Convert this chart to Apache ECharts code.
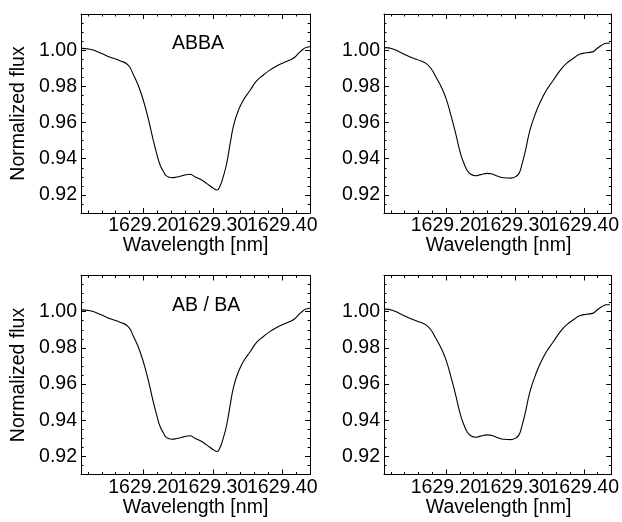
<!DOCTYPE html>
<html>
<head>
<meta charset="utf-8">
<script src="https://cdn.jsdelivr.net/npm/echarts@6.0.0/dist/echarts.min.js"></script>
<style>
  html, body { margin: 0; padding: 0; background: #fff; }
  #chart { width: 622px; height: 522px; }
</style>
</head>
<body>
<div id="chart"></div>
<script>
// Line profiles around 1629.3 nm (left column: ABBA / AB-BA, right column: second set)
const wavelengthLeft = [
  1629.110, 1629.123, 1629.137, 1629.152, 1629.166, 1629.178, 1629.185, 1629.195,
  1629.205, 1629.214, 1629.219, 1629.224, 1629.229, 1629.233, 1629.241, 1629.248,
  1629.258, 1629.267, 1629.274, 1629.282, 1629.291, 1629.301, 1629.306, 1629.310,
  1629.315, 1629.320, 1629.325, 1629.330, 1629.337, 1629.344, 1629.354, 1629.363,
  1629.373, 1629.382, 1629.392, 1629.402, 1629.411, 1629.418, 1629.426, 1629.435,
  1629.440
];
const fluxABBA = [
  1.0010, 1.0005, 0.9986, 0.9961, 0.9942, 0.9918, 0.9868, 0.9780,
  0.9651, 0.9504, 0.9430, 0.9365, 0.9328, 0.9305, 0.9295, 0.9299,
  0.9308, 0.9314, 0.9301, 0.9286, 0.9264, 0.9236, 0.9227, 0.9246,
  0.9301, 0.9375, 0.9485, 0.9586, 0.9669, 0.9725, 0.9780, 0.9830,
  0.9863, 0.9890, 0.9913, 0.9931, 0.9946, 0.9961, 0.9992, 1.0016,
  1.0019
];
const fluxABoverBA = [
  1.0010, 1.0005, 0.9986, 0.9961, 0.9942, 0.9918, 0.9868, 0.9780,
  0.9651, 0.9504, 0.9430, 0.9365, 0.9328, 0.9305, 0.9295, 0.9299,
  0.9308, 0.9314, 0.9301, 0.9286, 0.9264, 0.9236, 0.9227, 0.9246,
  0.9301, 0.9375, 0.9485, 0.9586, 0.9669, 0.9725, 0.9780, 0.9830,
  0.9863, 0.9890, 0.9913, 0.9931, 0.9946, 0.9961, 0.9992, 1.0016,
  1.0019
];
const wavelengthRight = [
  1629.111, 1629.123, 1629.135, 1629.149, 1629.164, 1629.171, 1629.178, 1629.185,
  1629.193, 1629.200, 1629.207, 1629.214, 1629.221, 1629.226, 1629.231, 1629.236,
  1629.243, 1629.250, 1629.260, 1629.267, 1629.274, 1629.284, 1629.294, 1629.301,
  1629.306, 1629.310, 1629.315, 1629.322, 1629.330, 1629.337, 1629.346, 1629.356,
  1629.366, 1629.375, 1629.385, 1629.394, 1629.404, 1629.414, 1629.418, 1629.426,
  1629.433, 1629.438
];
const fluxTopRight = [
  1.0014, 1.0007, 0.9986, 0.9961, 0.9940, 0.9927, 0.9900, 0.9854,
  0.9798, 0.9734, 0.9642, 0.9540, 0.9430, 0.9375, 0.9334, 0.9314,
  0.9306, 0.9312, 0.9319, 0.9316, 0.9305, 0.9295, 0.9293, 0.9301,
  0.9319, 0.9365, 0.9439, 0.9559, 0.9651, 0.9715, 0.9780, 0.9835,
  0.9890, 0.9927, 0.9955, 0.9977, 0.9986, 0.9992, 1.0005, 1.0027,
  1.0038, 1.0038
];
const fluxBottomRight = [
  1.0014, 1.0007, 0.9986, 0.9961, 0.9940, 0.9927, 0.9900, 0.9854,
  0.9798, 0.9734, 0.9642, 0.9540, 0.9430, 0.9375, 0.9334, 0.9314,
  0.9306, 0.9312, 0.9319, 0.9316, 0.9305, 0.9295, 0.9293, 0.9301,
  0.9319, 0.9365, 0.9439, 0.9559, 0.9651, 0.9715, 0.9780, 0.9835,
  0.9890, 0.9927, 0.9955, 0.9977, 0.9986, 0.9992, 1.0005, 1.0027,
  1.0038, 1.0038
];

// Axis ticks
const xMajorTicks = [1629.20, 1629.30, 1629.40];
const xMinorTicks = [1629.12, 1629.14, 1629.16, 1629.18, 1629.22, 1629.24, 1629.26,
  1629.28, 1629.32, 1629.34, 1629.36, 1629.38, 1629.42, 1629.44];
const yMajorTicks = [0.92, 0.94, 0.96, 0.98, 1.00];
const yMinorTicks = [0.915, 0.925, 0.93, 0.935, 0.945, 0.95, 0.955, 0.965, 0.97,
  0.975, 0.985, 0.99, 0.995, 1.005, 1.01, 1.015];

const panelTags = ['ABBA', '', 'AB / BA', ''];
const xTitle = 'Wavelength [nm]';
const yTitle = 'Normalized flux';

const X_MIN = 1629.11, X_MAX = 1629.44;
const Y_MIN = 0.91, Y_MAX = 1.02;
const FONT = '"Liberation Sans", Arial, Helvetica, sans-serif';
const FS = 19.5;
const PW = 229, PH = 199;

const panels = [
  { left: 81,  top: 14,    wl: wavelengthLeft,  flux: fluxABBA },
  { left: 384, top: 14,    wl: wavelengthRight, flux: fluxTopRight },
  { left: 81,  top: 275.5, wl: wavelengthLeft,  flux: fluxABoverBA },
  { left: 384, top: 275.5, wl: wavelengthRight, flux: fluxBottomRight }
];

const grid = [], xAxis = [], yAxis = [], series = [], graphic = [];
const black = '#000';

panels.forEach((p, i) => {
  grid.push({ left: p.left, top: p.top, width: PW, height: PH });

  const xAx = (position, ticks, len, labelValues, line) => ({
    type: 'value', gridIndex: i, position, min: X_MIN, max: X_MAX,
    splitLine: { show: false },
    axisLine: { show: line, onZero: false, lineStyle: { color: black, width: 1 } },
    axisTick: ticks ? { show: true, inside: true, length: len, customValues: ticks,
      lineStyle: { color: black, width: 1 } } : { show: false },
    axisLabel: labelValues ? {
      show: true, customValues: labelValues, margin: 3, hideOverlap: false,
      showMinLabel: true, showMaxLabel: true,
      formatter: v => v.toFixed(2),
      color: black, fontFamily: FONT, fontSize: FS
    } : { show: false }
  });
  const yAx = (position, ticks, len, labels, line) => ({
    type: 'value', gridIndex: i, position, min: Y_MIN, max: Y_MAX,
    splitLine: { show: false },
    axisLine: { show: line, onZero: false, lineStyle: { color: black, width: 1 } },
    axisTick: { show: true, inside: true, length: len, customValues: ticks,
      lineStyle: { color: black, width: 1 } },
    axisLabel: labels ? {
      show: true, customValues: yMajorTicks, margin: 4, hideOverlap: false,
      formatter: v => v.toFixed(2),
      color: black, fontFamily: FONT, fontSize: FS
    } : { show: false }
  });

  const base = xAxis.length;
  xAxis.push(xAx('bottom', xMinorTicks, 2.5, null, true));
  xAxis.push(xAx('bottom', xMajorTicks, 5, [xMajorTicks[1]], false));
  xAxis.push(xAx('top', xMinorTicks, 2.5, null, true));
  xAxis.push(xAx('top', xMajorTicks, 5, null, false));
  // neighbouring tick labels touch each other, so each sits on its own axis
  xAxis.push(xAx('bottom', null, 0, [xMajorTicks[0]], false));
  xAxis.push(xAx('bottom', null, 0, [xMajorTicks[2]], false));
  const ybase = yAxis.length;
  yAxis.push(yAx('left', yMinorTicks, 2.5, false, true));
  yAxis.push(yAx('left', yMajorTicks, 5, true, false));
  yAxis.push(yAx('right', yMinorTicks, 2.5, false, true));
  yAxis.push(yAx('right', yMajorTicks, 5, false, false));

  series.push({
    type: 'line',
    xAxisIndex: base + 1,
    yAxisIndex: ybase + 1,
    data: p.wl.map((w, k) => [w, p.flux[k]]),
    showSymbol: false,
    smooth: 0.5,
    clip: true,
    lineStyle: { color: black, width: 1.1 },
    silent: true
  });

  // x-axis title under every panel
  graphic.push({
    type: 'text', x: p.left + PW / 2, y: p.top + PH + 33,
    style: { text: xTitle, fill: black, font: `${FS}px ${FONT}`,
      textAlign: 'center', textVerticalAlign: 'middle' }
  });
  // y-axis title on the left column
  if (p.left < 200) {
    graphic.push({
      type: 'text', x: 18.5, y: p.top + PH / 2, rotation: Math.PI / 2,
      style: { text: yTitle, fill: black, font: `${FS}px ${FONT}`,
        textAlign: 'center', textVerticalAlign: 'middle' }
    });
  }
  if (panelTags[i]) {
    graphic.push({
      type: 'text', x: 172, y: p.top + 30,
      style: { text: panelTags[i], fill: black, font: `${FS}px ${FONT}`,
        textAlign: 'left', textVerticalAlign: 'middle' }
    });
  }
});

const chart = echarts.init(document.getElementById('chart'), null, { renderer: 'canvas' });
chart.setOption({
  animation: false,
  backgroundColor: '#fff',
  grid, xAxis, yAxis, series, graphic
});
</script>
</body>
</html>
